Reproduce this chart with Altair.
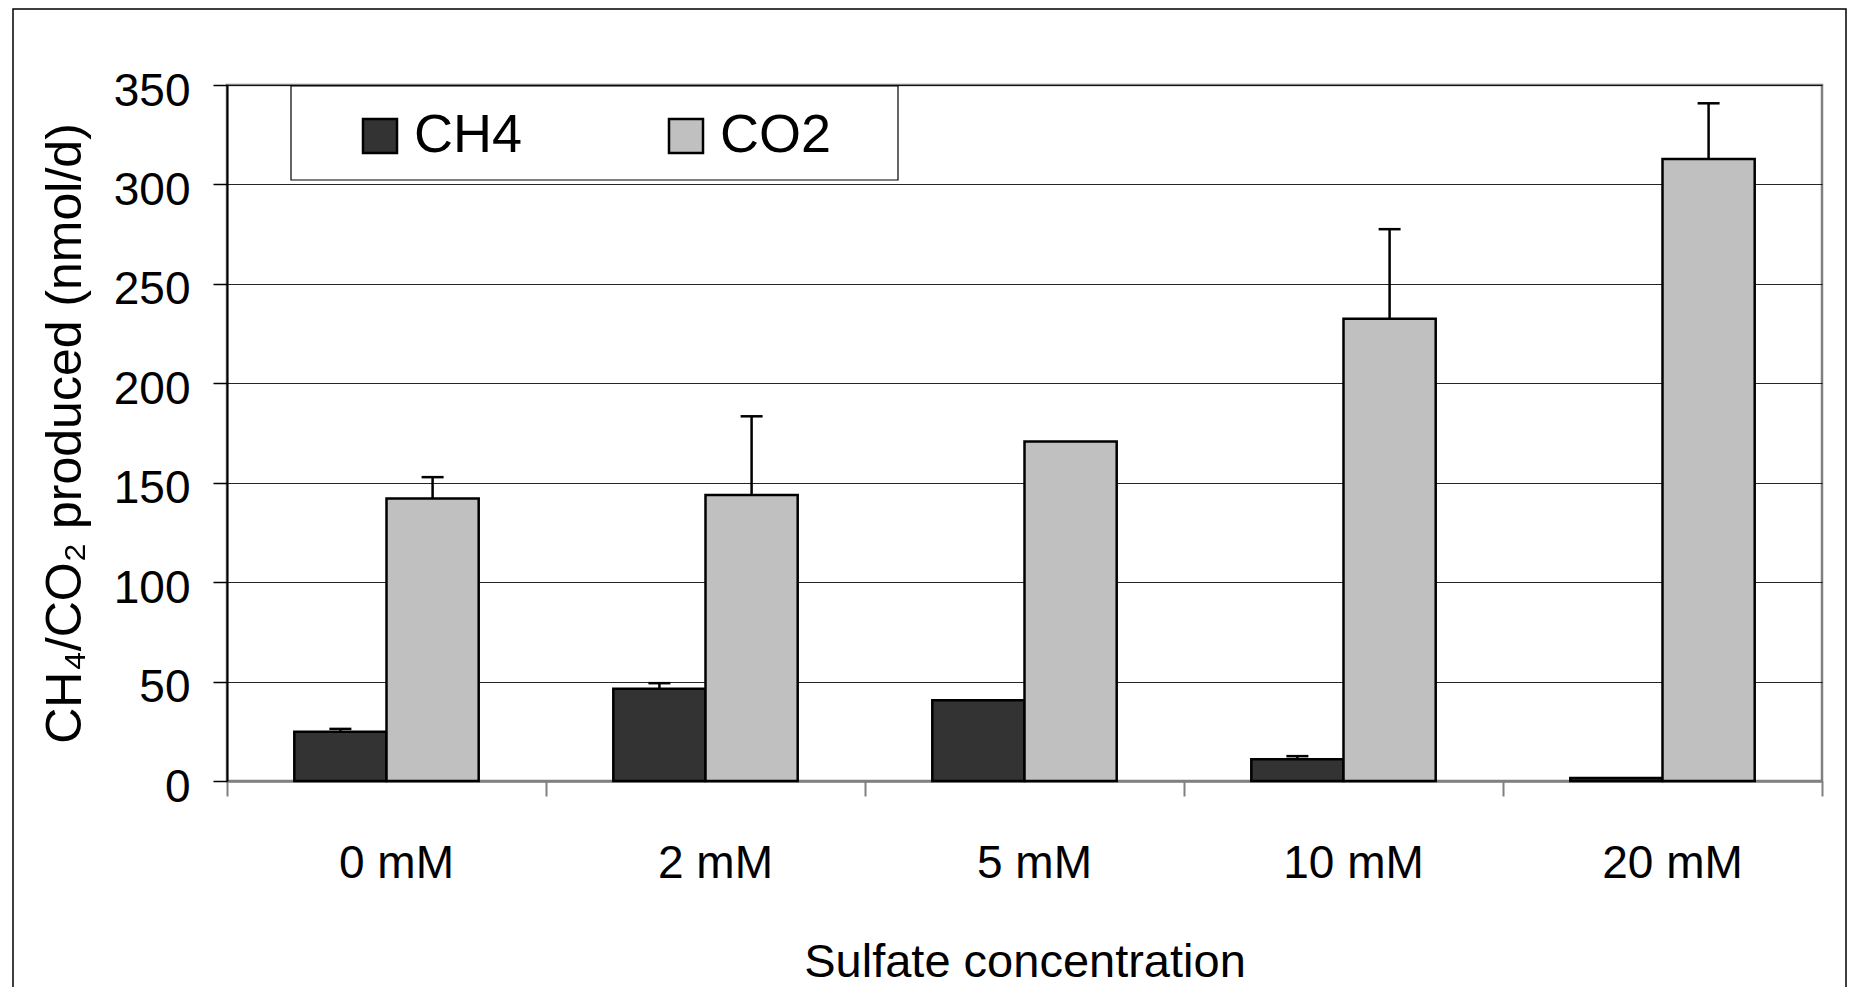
import altair as alt
import pandas as pd

# ---- data ----
categories = ["0 mM", "2 mM", "5 mM", "10 mM", "20 mM"]
series = ["CH4", "CO2"]
series_colors = ["#333333", "#c0c0c0"]
ch4 = [24.8, 46.4, 40.6, 11.0, 1.5]
ch4_err = [1.4, 2.8, 0.0, 1.5, 0.0]
co2 = [142.0, 143.8, 170.7, 232.5, 312.8]
co2_err = [10.8, 39.6, 0.0, 45.0, 28.0]
y_ticks = [0, 50, 100, 150, 200, 250, 300, 350]

rows = []
for i, c in enumerate(categories):
    rows.append({"conc": c, "gas": "CH4", "value": ch4[i], "err": ch4_err[i]})
    rows.append({"conc": c, "gas": "CO2", "value": co2[i], "err": co2_err[i]})
df = pd.DataFrame(rows)
df["upper"] = df["value"] + df["err"]

FONT = "Liberation Sans"
Y_TITLE = "CH\u2084/CO\u2082 produced (nmol/d)"
X_TITLE = "Sulfate concentration"

x_axis = alt.Axis(
    labelAngle=0, labelFontSize=46, labelColor="black", labelPadding=45, labelOffset=10,
    tickSize=15, tickColor="#808080", tickWidth=2, bandPosition=1, tickExtra=True,
    domainColor="#808080", domainWidth=2.5, grid=False,
    titleFontSize=47, titleFontWeight="normal", titleColor="black",
    titleY=195, titleBaseline="alphabetic",
)
y_axis = alt.Axis(
    values=y_ticks, labelFontSize=46, labelColor="black", labelPadding=23, labelOffset=6,
    tickSize=14, tickColor="black", tickWidth=1.5,
    domainColor="black", domainWidth=2,
    grid=True, gridColor="#000000", gridWidth=1, gridOpacity=0.85,
    titleFontSize=50, titleFontWeight="normal", titleColor="black",
    titleX=-147, titleY=348, titleAlign="center", titleBaseline="alphabetic", titleAngle=270,
)

x_enc = alt.X("conc:N", sort=categories, title=X_TITLE,
              scale=alt.Scale(paddingInner=0, paddingOuter=0), axis=x_axis)
xoff_enc = alt.XOffset("gas:N", sort=series,
                       scale=alt.Scale(paddingInner=0, paddingOuter=0.73))
y_scale = alt.Scale(domain=[0, 350], nice=False)

legend = alt.Legend(
    orient="none", legendX=126, legendY=24, direction="horizontal",
    title=None, padding=0,
    labelFontSize=54, labelColor="black", labelOffset=7, labelLimit=500,
    symbolType="square", symbolSize=1156, symbolStrokeColor="black",
    symbolStrokeWidth=2.5, symbolOpacity=1, columnPadding=136,
)

frame = alt.Chart(alt.Data(values=[{"k": 1}])).mark_rect(
    fillOpacity=0, stroke="black", strokeWidth=1.5, clip=False
).encode(x=alt.value(-214), x2=alt.value(1619), y=alt.value(-76), y2=alt.value(1000))

legend_box = alt.Chart(alt.Data(values=[{"k": 1}])).mark_rect(
    fill="white", stroke="black", strokeWidth=1.2, clip=False
).encode(x=alt.value(64), x2=alt.value(671), y=alt.value(1), y2=alt.value(95))

bars = alt.Chart(df).mark_bar(stroke="black", strokeWidth=2.5, opacity=1).encode(
    x=x_enc,
    xOffset=xoff_enc,
    y=alt.Y("value:Q", scale=y_scale, axis=y_axis, title=Y_TITLE),
    color=alt.Color("gas:N", sort=series,
                    scale=alt.Scale(domain=series, range=series_colors), legend=legend),
)

err_base = alt.Chart(df).transform_filter("datum.err > 0")
stems = err_base.mark_rule(color="black", strokeWidth=2.5).encode(
    x=alt.X("conc:N", sort=categories, title=X_TITLE),
    xOffset=alt.XOffset("gas:N", sort=series),
    y=alt.Y("value:Q", scale=y_scale, title=Y_TITLE),
    y2="upper:Q",
)
caps = err_base.mark_tick(color="black", thickness=2.5, size=22, orient="horizontal", opacity=1).encode(
    x=alt.X("conc:N", sort=categories, title=X_TITLE),
    xOffset=alt.XOffset("gas:N", sort=series),
    y=alt.Y("upper:Q", scale=y_scale, title=Y_TITLE),
)

chart = alt.layer(frame, bars, stems, caps, legend_box).properties(
    width=1595, height=696,
    padding={"left": 219, "top": 77, "right": 27, "bottom": 206},
    autosize=alt.AutoSizeParams(type="none"),
    background="white",
).configure(font=FONT).configure_view(
    stroke="#808080", strokeWidth=2.5
)

chart.save("out.html", embed_options={"renderer": "svg", "actions": False})
